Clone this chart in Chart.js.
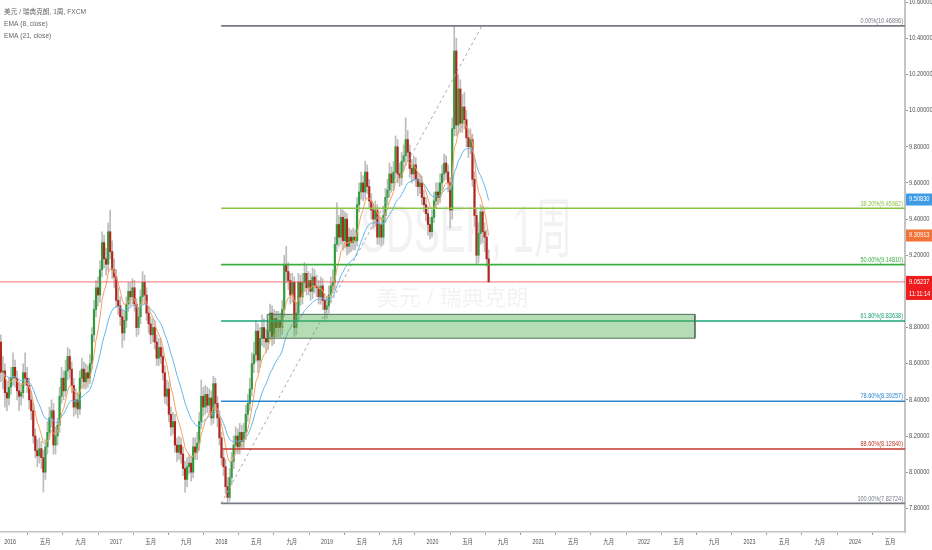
<!DOCTYPE html>
<html><head><meta charset="utf-8">
<script src="https://cdn.jsdelivr.net/npm/chart.js@4.4.1/dist/chart.umd.min.js"></script>
<style>html,body{margin:0;padding:0;background:#fff;overflow:hidden}#c{display:block}</style>
</head><body>
<canvas id="c" width="932" height="550"></canvas>
<script>
// ---- data (weekly USD/SEK candles, first week starting 2015-11-30) ----
const weekStart = '2015-11-30';
const firstOpen = 8.72;
const closes = [
 8.55,8.56,8.44,8.41,8.47,8.52,8.58,8.52,8.45,8.42,
 8.44,8.55,8.52,8.48,8.40,8.34,8.20,8.12,8.09,8.13,
 8.08,8.00,8.14,8.22,8.30,8.34,8.15,8.20,8.26,8.42,
 8.52,8.45,8.56,8.64,8.57,8.48,8.36,8.40,8.35,8.52,
 8.57,8.50,8.55,8.52,8.60,8.76,8.90,9.02,8.98,9.12,
 9.27,9.18,9.15,9.33,9.22,9.12,9.08,8.95,8.92,8.86,
 8.77,8.84,8.93,9.00,8.97,9.02,8.93,8.80,8.86,8.97,
 9.05,8.98,8.88,8.82,8.76,8.80,8.72,8.63,8.69,8.64,
 8.55,8.42,8.46,8.32,8.25,8.28,8.15,8.11,8.15,8.10,
 8.02,7.96,8.03,8.05,8.00,8.14,8.11,8.16,8.28,8.42,
 8.36,8.43,8.37,8.41,8.30,8.49,8.38,8.30,8.19,8.08,
 8.03,7.92,7.86,7.97,8.06,8.15,8.20,8.14,8.22,8.17,
 8.22,8.32,8.38,8.46,8.60,8.65,8.78,8.62,8.74,8.80,
 8.74,8.72,8.78,8.88,8.75,8.85,8.80,8.84,8.80,8.90,
 9.15,9.11,9.06,8.98,9.05,8.80,8.88,9.05,8.97,9.05,
 9.10,9.02,9.06,9.00,9.08,9.03,9.02,8.97,9.03,8.95,
 8.90,8.92,8.98,9.03,9.05,9.26,9.37,9.30,9.41,9.28,
 9.40,9.25,9.30,9.27,9.30,9.28,9.48,9.55,9.60,9.55,
 9.66,9.58,9.50,9.45,9.40,9.45,9.30,9.37,9.30,9.42,
 9.52,9.56,9.65,9.60,9.66,9.80,9.65,9.63,9.72,9.75,
 9.84,9.77,9.68,9.65,9.70,9.62,9.58,9.60,9.52,9.48,
 9.43,9.37,9.33,9.41,9.50,9.55,9.52,9.60,9.65,9.71,
 9.66,9.60,9.45,9.90,10.33,9.92,10.12,9.93,10.02,9.95,
 9.85,9.80,9.84,9.62,9.42,9.20,9.32,9.44,9.33,9.30,
 9.18,9.05237];
const highs = [
 8.76,8.64,8.60,8.50,8.52,8.58,8.66,8.62,8.56,8.50,
 8.49,8.60,8.66,8.58,8.52,8.45,8.38,8.24,8.18,8.19,
 8.17,8.12,8.18,8.28,8.36,8.40,8.38,8.25,8.30,8.47,
 8.58,8.56,8.62,8.69,8.68,8.61,8.52,8.46,8.44,8.56,
 8.63,8.61,8.60,8.59,8.65,8.80,8.95,9.06,9.08,9.17,
 9.33,9.31,9.24,9.38,9.45,9.28,9.18,9.12,9.02,8.97,
 8.90,8.89,8.97,9.05,9.05,9.07,9.06,8.96,8.91,9.01,
 9.11,9.09,9.02,8.92,8.86,8.85,8.84,8.76,8.74,8.74,
 8.69,8.59,8.51,8.50,8.36,8.33,8.32,8.19,8.20,8.19,
 8.14,8.06,8.08,8.10,8.09,8.19,8.19,8.22,8.33,8.51,
 8.47,8.48,8.47,8.46,8.45,8.53,8.52,8.42,8.34,8.22,
 8.12,8.07,7.97,8.02,8.11,8.20,8.25,8.24,8.27,8.26,
 8.27,8.37,8.43,8.52,8.66,8.72,8.84,8.82,8.80,8.87,
 8.85,8.79,8.83,8.93,8.92,8.90,8.89,8.89,8.88,8.95,
 9.20,9.25,9.16,9.10,9.10,9.08,8.94,9.10,9.09,9.10,
 9.16,9.14,9.11,9.10,9.13,9.12,9.09,9.06,9.08,9.07,
 8.99,8.97,9.03,9.08,9.12,9.30,9.49,9.42,9.46,9.45,
 9.44,9.43,9.35,9.34,9.35,9.34,9.52,9.60,9.66,9.64,
 9.72,9.70,9.62,9.54,9.49,9.50,9.48,9.42,9.41,9.47,
 9.57,9.62,9.71,9.69,9.72,9.86,9.84,9.71,9.77,9.81,
 9.96,9.89,9.81,9.73,9.75,9.74,9.66,9.65,9.64,9.56,
 9.52,9.47,9.41,9.45,9.55,9.60,9.60,9.65,9.70,9.76,
 9.75,9.70,9.63,9.96,10.46896,10.40,10.20,10.17,10.09,10.10,
 10.00,9.90,9.90,9.87,9.66,9.46,9.38,9.48,9.47,9.38,
 9.34,9.23];
const lows = [
 8.50,8.46,8.36,8.34,8.37,8.43,8.48,8.47,8.40,8.34,
 8.37,8.41,8.48,8.44,8.35,8.29,8.16,8.08,8.03,8.05,
 8.02,7.89,7.96,8.10,8.18,8.25,8.10,8.10,8.15,8.22,
 8.38,8.40,8.42,8.51,8.52,8.44,8.31,8.32,8.30,8.32,
 8.47,8.46,8.46,8.47,8.49,8.57,8.72,8.86,8.92,8.94,
 9.08,9.13,9.09,9.11,9.18,9.07,9.02,8.91,8.87,8.81,
 8.69,8.73,8.80,8.89,8.92,8.93,8.89,8.75,8.76,8.82,
 8.93,8.93,8.84,8.77,8.71,8.72,8.68,8.59,8.59,8.60,
 8.51,8.38,8.37,8.28,8.20,8.21,8.11,8.06,8.07,8.05,
 7.98,7.89,7.92,7.99,7.95,7.97,8.07,8.07,8.12,8.24,
 8.31,8.32,8.33,8.32,8.26,8.27,8.34,8.25,8.15,8.04,
 7.98,7.88,7.82724,7.84,7.93,8.02,8.11,8.10,8.10,8.13,
 8.13,8.18,8.28,8.34,8.42,8.55,8.61,8.55,8.58,8.70,
 8.69,8.66,8.68,8.74,8.70,8.71,8.75,8.75,8.75,8.76,
 8.86,9.05,9.01,8.93,8.94,8.75,8.76,8.84,8.92,8.93,
 9.00,8.98,8.98,8.95,8.96,8.99,8.97,8.93,8.93,8.90,
 8.84,8.85,8.88,8.94,8.99,9.01,9.22,9.25,9.26,9.23,
 9.24,9.20,9.21,9.22,9.23,9.23,9.25,9.44,9.51,9.50,
 9.51,9.54,9.46,9.40,9.35,9.36,9.26,9.26,9.25,9.26,
 9.38,9.48,9.52,9.56,9.56,9.62,9.60,9.58,9.59,9.68,
 9.71,9.72,9.63,9.60,9.61,9.58,9.53,9.54,9.48,9.44,
 9.39,9.31,9.29,9.30,9.38,9.46,9.48,9.49,9.56,9.61,
 9.62,9.55,9.35,9.40,9.86,9.86,9.87,9.88,9.88,9.90,
 9.80,9.74,9.76,9.58,9.36,9.15,9.16,9.26,9.27,9.22,
 9.14,9.05];

const xTickDates = ['2016-01-01','2016-05-01','2016-09-01','2017-01-01','2017-05-01','2017-09-01',
 '2018-01-01','2018-05-01','2018-09-01','2019-01-01','2019-05-01','2019-09-01',
 '2020-01-01','2020-05-01','2020-09-01','2021-01-01','2021-05-01','2021-09-01',
 '2022-01-01','2022-05-01','2022-09-01','2023-01-01','2023-05-01','2023-09-01',
 '2024-01-01','2024-05-01'];
const xTickLabels = ['2016','五月','九月','2017','五月','九月','2018','五月','九月','2019','五月','九月',
 '2020','五月','九月','2021','五月','九月','2022','五月','九月','2023','五月','九月','2024','五月'];
const yTicks = [7.8,8.0,8.2,8.4,8.6,8.8,9.0,9.2,9.4,9.6,9.8,10.0,10.2,10.4,10.6];

const fibRatios = [0, 0.382, 0.5, 0.618, 0.786, 0.886, 1];
const fibPrices = [10.46896, 9.45982, 9.14810, 8.83638, 8.39257, 8.12840, 7.82724];
const fibColors = ['#787b86','#8bc34a','#3cae3c','#1aa37a','#2a86d1','#c0392b','#787b86'];
const fibStartWeek = 108.8;
const trendFrom = [108.8, 7.82724];
const trendTo = [237.7, 10.46896];
const zoneWeeks = [131.6, 342.9];
const zonePrices = [8.741, 8.873];
const lastPrice = 9.05237;
const countdown = '11:11:14';
const ema21Label = '9.50830', ema21Value = 9.5083;
const ema8Label = '9.30913', ema8Value = 9.30913;
const titleLines = ['美元 / 瑞典克朗, 1周, FXCM', 'EMA (8, close)', 'EMA (21, close)'];
const watermark = ['USDSEK, 1周', '美元 / 瑞典克朗'];

// ---- build ----
const DAY = 86400000;
const weekOf = d => (Date.parse(d) - Date.parse(weekStart)) / (7 * DAY);
const xTickWeeks = xTickDates.map(weekOf);
const opens = [firstOpen].concat(closes.slice(0, -1));
function ema(vals, n) { const k = 2 / (n + 1); let e = vals[0]; return vals.map((v, i) => i === 0 ? e : (e = v * k + e * (1 - k))); }
const ema8 = ema(closes, 8), ema21 = ema(closes, 21);
const xMin = -0.43, xMax = 446.7, yMin = 7.669, yMax = 10.612;

const GREEN = '#2e9e3a', RED = '#b3241c';
const FONT = '"Liberation Sans", "DejaVu Sans", "Noto Sans CJK SC", sans-serif';

const lineDs = (data, color, width, order, extra) => Object.assign({
  type: 'line', data, borderColor: color, borderWidth: width, pointRadius: 0,
  tension: 0, fill: false, order }, extra || {});

const datasets = [
  { type: 'bar', data: closes.map((c, i) => ({ x: i, y: [lows[i], highs[i]] })),
    backgroundColor: '#bcbcbc', barThickness: 1, grouped: false, borderWidth: 0, order: 9 },
  { type: 'bar', data: closes.map((c, i) => ({ x: i, y: [Math.min(opens[i], c), Math.max(opens[i], c)] })),
    backgroundColor: closes.map((c, i) => c >= opens[i] ? GREEN : RED),
    barThickness: 1.5, grouped: false, borderWidth: 0, order: 8 },
  lineDs(closes.map((c, i) => ({ x: i, y: ema21[i] })), '#68b6ea', 1, 7),
  lineDs(closes.map((c, i) => ({ x: i, y: ema8[i] })), '#f7a061', 1, 6),
  lineDs([{ x: trendFrom[0], y: trendFrom[1] }, { x: trendTo[0], y: trendTo[1] }], '#a8a8a8', 1, 5, { borderDash: [3, 3] }),
  lineDs([{ x: xMin, y: lastPrice }, { x: xMax, y: lastPrice }], 'rgba(240,70,70,0.75)', 1, 4),
];
fibPrices.forEach((p, k) => datasets.push(lineDs([{ x: fibStartWeek, y: p }, { x: xMax, y: p }], fibColors[k], 1.6, 3)));
datasets.push(lineDs([
  { x: zoneWeeks[0], y: zonePrices[0] }, { x: zoneWeeks[0], y: zonePrices[1] },
  { x: zoneWeeks[1], y: zonePrices[1] }, { x: zoneWeeks[1], y: zonePrices[0] },
  { x: zoneWeeks[0], y: zonePrices[0] }], '#55705a', 1, 1,
  { fill: 'shape', backgroundColor: 'rgba(76,175,80,0.42)' }));

function txt(ctx, s, x, y, o) {
  ctx.save();
  ctx.font = (o.weight ? o.weight + ' ' : '') + (o.size || 6) + 'px ' + FONT;
  ctx.fillStyle = o.color || '#555';
  ctx.textBaseline = 'middle'; ctx.textAlign = 'left';
  const hs = o.hs || 1;
  const w = ctx.measureText(s).width * hs;
  const x0 = o.align === 'right' ? x - w : o.align === 'center' ? x - w / 2 : x;
  ctx.translate(x0, y); ctx.scale(hs, 1); ctx.fillText(s, 0, 0);
  ctx.restore();
  return w;
}

const overlay = {
  id: 'overlay',
  beforeDatasetsDraw(chart) {
    const { ctx, chartArea: a } = chart;
    const cx = (a.left + a.right) / 2;
    ctx.save();
    ctx.fillStyle = 'rgba(0,0,0,0.05)';
    ctx.textBaseline = 'middle'; ctx.textAlign = 'center';
    ctx.font = '66px ' + FONT;
    let w = ctx.measureText(watermark[0]).width;
    ctx.save(); ctx.translate(cx, 234); ctx.scale(240 / w, 1); ctx.fillText(watermark[0], 0, 0); ctx.restore();
    ctx.font = '22px ' + FONT;
    w = ctx.measureText(watermark[1]).width;
    ctx.save(); ctx.translate(cx, 299); ctx.scale(152 / w, 1); ctx.fillText(watermark[1], 0, 0); ctx.restore();
    ctx.restore();
  },
  afterDraw(chart) {
    const { ctx, chartArea: a, scales: { x, y } } = chart;
    // axis labels
    yTicks.forEach(v => txt(ctx, v.toFixed(5), a.right + 4, y.getPixelForValue(v), { size: 6.3, hs: 0.9, color: '#4d4d4d' }));
    xTickWeeks.forEach((v, k) => txt(ctx, xTickLabels[k], x.getPixelForValue(v), a.bottom + 10.5, { size: 6.3, hs: 0.85, align: 'center', color: '#4d4d4d' }));
    // fib labels
    fibPrices.forEach((p, k) => {
      const s = (fibRatios[k] * 100).toFixed(2) + '%(' + p.toFixed(5) + ')';
      txt(ctx, s, a.right - 2, y.getPixelForValue(p) - 4.5, { size: 6.3, hs: 0.88, align: 'right', color: fibColors[k] });
    });
    // legend
    titleLines.forEach((s, k) => txt(ctx, s, 4, 12.5 + k * 12, { size: 7, hs: 0.95, color: '#666' }));
    // price labels on the axis
    const box = (val, text, bg, h) => {
      const py = y.getPixelForValue(val);
      ctx.fillStyle = bg; ctx.fillRect(a.right + 1, py - 6, chart.width - a.right - 1, h || 12);
      txt(ctx, text, a.right + 4, py, { size: 6.3, hs: 0.9, color: '#fff' });
      return py;
    };
    box(ema21Value, ema21Label, '#3f9be4');
    box(ema8Value, ema8Label, '#f0733a');
    const py = box(lastPrice, lastPrice.toFixed(5), '#ee1c1c', 24);
    txt(ctx, countdown, a.right + 4, py + 12, { size: 6.3, hs: 0.9, color: '#fff' });
  }
};

new Chart(document.getElementById('c'), {
  type: 'bar',
  data: { datasets },
  options: {
    responsive: false, animation: false, devicePixelRatio: 1,
    layout: { padding: 0 },
    plugins: { legend: { display: false }, tooltip: { enabled: false } },
    scales: {
      x: { type: 'linear', min: xMin, max: xMax, offset: false, position: 'bottom',
        afterBuildTicks: s => { s.ticks = xTickWeeks.map(v => ({ value: v })); },
        afterFit: s => { s.height = 18; },
        ticks: { display: false },
        grid: { drawOnChartArea: false, drawTicks: true, tickLength: 3, color: '#9a9a9a' },
        border: { color: '#c4c4c4', width: 1.5 } },
      y: { type: 'linear', position: 'right', min: yMin, max: yMax,
        afterBuildTicks: s => { s.ticks = yTicks.map(v => ({ value: v })); },
        afterFit: s => { s.width = 27; },
        ticks: { display: false },
        grid: { drawOnChartArea: false, drawTicks: true, tickLength: 3, color: '#9a9a9a' },
        border: { color: '#c4c4c4', width: 2 } }
    }
  },
  plugins: [overlay]
});
</script>
</body></html>
